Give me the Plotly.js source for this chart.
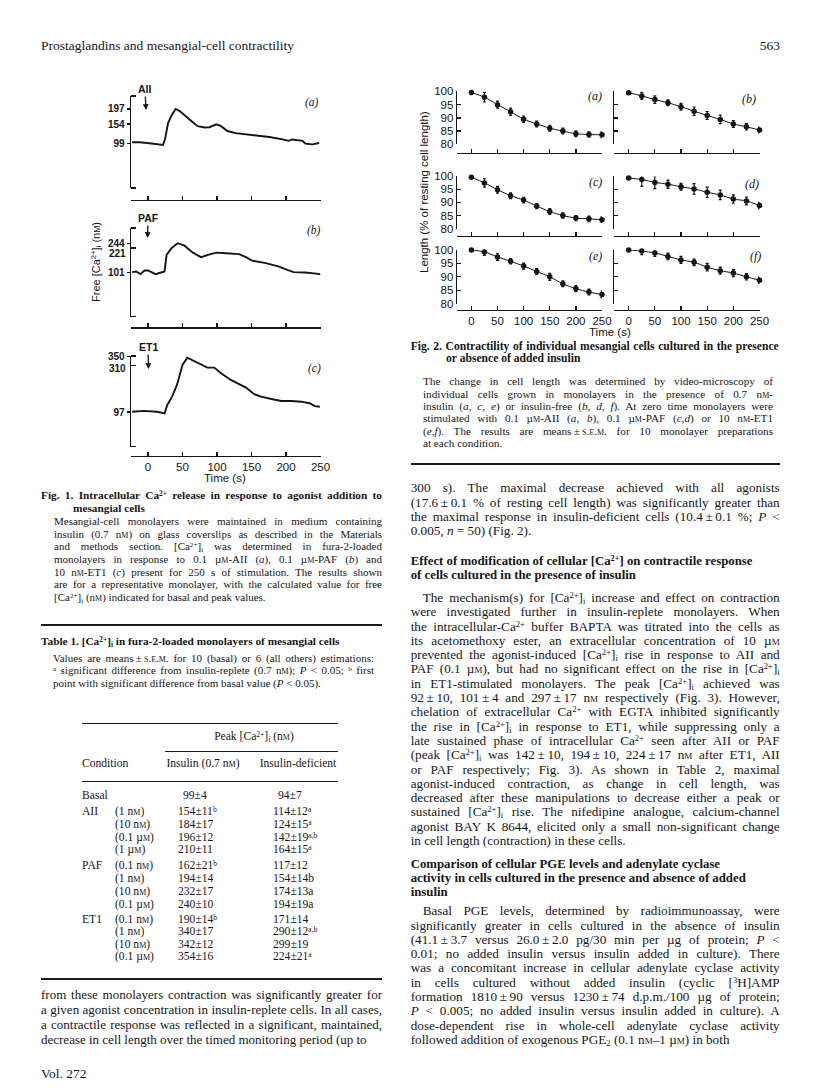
<!DOCTYPE html>
<html>
<head>
<meta charset="utf-8">
<script src="https://cdn.plot.ly/plotly-3.0.1.min.js"></script>
<style>
  body { margin: 0; background: #fff; }
  #page { position: relative; width: 816px; height: 1092px; overflow: hidden; background: #fff; }
  #plot { position: absolute; left: 0; top: 0; width: 816px; height: 1092px; }
  .ln { position: absolute; white-space: nowrap; font-family: "Liberation Serif", serif; color: #161616; line-height: 1; }
  .ln sup { font-size: 65%; vertical-align: 0.45em; line-height: 0; }
  .ln sub { font-size: 65%; vertical-align: -0.25em; line-height: 0; }
  .sc { font-variant: small-caps; }
  .rule { position: absolute; background: #1a1a1a; }
  .vt { position: absolute; white-space: nowrap; font-family: "Liberation Sans", Arial, sans-serif; color: #151515; line-height: 1; transform: translate(-50%, -50%) rotate(-90deg); }
  .vt sup { font-size: 70%; vertical-align: 0.4em; line-height: 0; }
  .vt sub { font-size: 70%; vertical-align: -0.2em; line-height: 0; }
</style>
</head>
<body>
<div id="page"><div id="plot"></div></div>
<script>
// ---------- Fig. 1 : free [Ca2+]i traces (nM) ----------
const fig1TimeTicks = [0, 50, 100, 150, 200, 250];

const timeA = [-23, -12, 2, 17, 22, 25, 29, 34, 40, 46, 55, 65, 72, 82, 89, 99, 106, 115, 127, 142, 161, 176, 195, 204, 209, 224, 228, 238, 248];
const caA   = [102, 102, 99, 94, 94, 113, 156, 178, 197, 191, 175, 159, 148, 144, 145, 153, 148, 134, 128, 125, 121, 117, 110, 106, 110, 106, 98, 96, 100];
const ticksA = [99, 154, 197];

const timeB = [-23, -17, -11, -5, 0, 11, 19, 24, 27, 34, 43, 53, 65, 77, 87, 99, 113, 132, 142, 151, 171, 190, 202, 211, 228, 250];
const caB   = [103, 106, 93, 111, 111, 93, 101, 106, 187, 220, 244, 232, 198, 176, 187, 198, 195, 191, 176, 159, 147, 130, 114, 103, 101, 93];
const ticksB = [101, 221, 244];

const timeC = [-23, -6, 13, 24, 28, 35, 42, 50, 57, 64, 76, 86, 96, 106, 120, 132, 142, 154, 164, 179, 193, 208, 222, 234, 242, 249];
const caC   = [98, 102, 98, 91, 129, 167, 220, 311, 344, 334, 314, 299, 299, 273, 243, 223, 208, 178, 167, 156, 147, 147, 144, 137, 124, 121];
const ticksC = [97, 310, 350];

const fig1Agonists = ["AII", "PAF", "ET1"];
const fig1Letters = ["(a)", "(b)", "(c)"];

// ---------- Fig. 2 : cell length (% of resting) ----------
const fig2Time = [0, 25, 50, 75, 100, 125, 150, 175, 200, 225, 250];
const fig2TimeTicks = [0, 50, 100, 150, 200, 250];
const fig2LengthTicks = [80, 85, 90, 95, 100];

const lenA = [99.6, 97.8, 95.0, 92.3, 89.5, 87.7, 86.1, 85.0, 84.0, 83.7, 83.6];
const errA = [0, 1.8, 1.3, 1.4, 1.2, 1.1, 1.1, 1.1, 1.1, 1.0, 1.1];
const lenB = [99.5, 98.3, 96.9, 95.7, 94.2, 92.5, 90.9, 89.4, 87.7, 86.6, 85.4];
const errB = [0, 1.3, 1.4, 1.1, 1.3, 1.6, 1.5, 1.6, 1.3, 1.2, 1.1];
const lenC = [99.7, 97.5, 94.9, 92.6, 90.9, 88.6, 86.5, 85.0, 84.0, 83.7, 83.4];
const errC = [0, 1.6, 1.3, 1.1, 1.1, 1.0, 1.1, 1.0, 1.0, 1.1, 1.1];
const lenD = [99.4, 98.8, 97.7, 97.0, 96.0, 95.2, 93.9, 92.9, 91.3, 90.6, 88.8];
const errD = [0, 2.6, 2.4, 1.6, 1.3, 2.0, 2.0, 1.8, 1.6, 1.5, 1.2];
const lenE = [100, 99.3, 97.4, 95.8, 94.0, 92.0, 90.0, 87.4, 85.6, 84.3, 83.4];
const errE = [0, 1.3, 1.3, 1.0, 1.1, 1.1, 1.3, 1.1, 1.1, 1.1, 1.3];
const lenF = [100, 99.6, 98.9, 97.6, 96.3, 95.4, 93.6, 92.3, 91.4, 90.0, 88.7];
const errF = [0, 1.3, 1.3, 1.2, 1.3, 1.2, 1.4, 1.3, 1.3, 1.2, 1.2];
const fig2Letters = ["(a)", "(b)", "(c)", "(d)", "(e)", "(f)"];

// ---------- Table 1 ----------
const tblGroups = ["Basal", "AII", "", "", "", "PAF", "", "", "", "ET1", "", "", ""];
const tblConc = ["", "(1 nM)", "(10 nM)", "(0.1 µM)", "(1 µM)", "(0.1 nM)", "(1 nM)", "(10 nM)", "(0.1 µM)", "(0.1 nM)", "(1 nM)", "(10 nM)", "(0.1 µM)"];
const tblInsulin = ["99±4", "154±11^b", "184±17", "196±12", "210±11", "162±21^b", "194±14", "232±17", "240±10", "190±14^b", "340±17", "342±12", "354±16"];
const tblDeficient = ["94±7", "114±12^a", "124±15^a", "142±19^a,b", "164±15^a", "117±12", "154±14b", "174±13a", "194±19a", "171±14", "290±12^a,b", "299±19", "224±21^a"];

// ---------- page geometry helpers ----------
const W = 816, H = 1092;
const fx = p => p / W;
const fy = p => 1 - p / H;
const ink = "#151515";
const sans = "Liberation Sans, Arial, sans-serif";

function axisBase() {
  return {
    showgrid: false, zeroline: false, showline: true, linecolor: ink, linewidth: 1.3,
    ticks: "inside", tickcolor: ink, tickwidth: 1.3, ticklen: 4, fixedrange: true,
    tickmode: "array"
  };
}

const layout = {
  width: W, height: H,
  margin: { l: 0, r: 0, t: 0, b: 0, pad: 0 },
  paper_bgcolor: "rgba(0,0,0,0)", plot_bgcolor: "rgba(0,0,0,0)",
  showlegend: false,
  font: { family: sans, color: ink },
  annotations: []
};
const data = [];

function ann(text, x, y, extra) {
  return Object.assign({
    text: text, x: fx(x), y: fy(y), xref: "paper", yref: "paper",
    showarrow: false, xanchor: "center", yanchor: "middle",
    font: { family: sans, size: 11, color: ink }
  }, extra || {});
}

// ----- Fig. 1 -----
// the printed [Ca2+] scale is not linear: one label per panel is moved onto its printed place
const f1Panels = [
  { top: 96, bot: 188, axisY: 200, range: [-28.7, 234.1], t: timeA, v: caA, ticks: ticksA, nudge: null, lab: [145, 89], tip: [146, 110], let: [312, 102] },
  { top: 228, bot: 316.7, axisY: 327.3, range: [-114.8, 318.4], t: timeB, v: caB, ticks: ticksB, nudge: [221, -6], lab: [148, 218], tip: [147.5, 238], let: [314, 230] },
  { top: 356, bot: 446.7, axisY: 456, range: [-60.8, 351.8], t: timeC, v: caC, ticks: ticksC, nudge: [310, -3], lab: [148, 347], tip: [148.5, 369], let: [314, 368] }
];
const f1X = [131, 320.5], f1T0 = -24.6;
const f1TickFont = { size: 10, family: sans, color: ink, weight: "bold" };

f1Panels.forEach((p, i) => {
  const n = i + 1, sfx = n > 1 ? String(n) : "";
  layout["xaxis" + sfx] = Object.assign(axisBase(), {
    domain: [fx(f1X[0]), fx(f1X[1])], range: [f1T0, 250],
    anchor: "free", position: fy(p.axisY),
    tickvals: fig1TimeTicks, ticktext: fig1TimeTicks.map(String),
    minor: { tickmode: "array", tickvals: [f1T0], ticks: "inside", ticklen: 4, tickwidth: 1.3, tickcolor: ink },
    showticklabels: i === 2, tickfont: { size: 11.5, family: sans, color: ink }
  });
  const mainTicks = p.nudge ? p.ticks.filter(v => v !== p.nudge[0]) : p.ticks;
  const minorTicks = p.nudge ? [p.range[0], p.nudge[0], p.range[1]] : p.range;
  layout["yaxis" + sfx] = Object.assign(axisBase(), {
    domain: [fy(p.bot), fy(p.top)], range: p.range, anchor: "x" + sfx,
    tickvals: mainTicks, ticktext: mainTicks.map(String), ticks: "outside", ticklen: 3,
    minor: { tickmode: "array", tickvals: minorTicks, ticks: "inside", ticklen: 5, tickwidth: 1.3, tickcolor: ink },
    tickfont: f1TickFont
  });
  if (p.nudge) {
    layout.annotations.push({
      text: String(p.nudge[0]), xref: "x" + sfx + " domain", yref: "y" + sfx,
      x: 0, y: p.nudge[0], xanchor: "right", yanchor: "middle", xshift: -4, yshift: p.nudge[1],
      showarrow: false, borderpad: 0, font: f1TickFont
    });
  }
  data.push({
    type: "scatter", mode: "lines", x: p.t, y: p.v, xaxis: "x" + sfx, yaxis: "y" + sfx,
    line: { color: ink, width: 1.9 }, hoverinfo: "skip"
  });
  layout.annotations.push(ann(fig1Agonists[i], p.tip[0], p.tip[1], {
    showarrow: true, ax: p.lab[0] - p.tip[0], ay: p.lab[1] - p.tip[1],
    arrowhead: 2, arrowsize: 0.9, arrowwidth: 1.3, arrowcolor: ink, standoff: 0,
    font: { family: sans, size: 10.5, color: ink, weight: "bold" }
  }));
  layout.annotations.push(ann(fig1Letters[i], p.let[0], p.let[1], {
    font: { family: "Liberation Serif, serif", size: 11.5, color: ink, style: "italic" }
  }));
});
layout.annotations.push(ann("Time (s)", 225, 478, { font: { size: 11.5, family: sans, color: ink } }));

// ----- Fig. 2 -----
const f2Cols = [[457, 602], [614.3, 759.5]];
const f2Rows = [
  { top: 91.4, bot: 144.3, axisY: 152.5 },
  { top: 176.4, bot: 228.5, axisY: 235.5 },
  { top: 250, bot: 303.6, axisY: 310 }
];
const f2T0 = -27.5;
const f2Series = [[lenA, errA], [lenB, errB], [lenC, errC], [lenD, errD], [lenE, errE], [lenF, errF]];
const f2LetterPos = [[594.5, 96], [749, 98.5], [595.5, 182], [751.5, 183.5], [595.5, 255.5], [755, 255.5]];

f2Series.forEach((s, k) => {
  const row = Math.floor(k / 2), col = k % 2;
  const n = 4 + k, sfx = String(n);
  const r = f2Rows[row], c = f2Cols[col];
  layout["xaxis" + sfx] = Object.assign(axisBase(), {
    domain: [fx(c[0]), fx(c[1])], range: [f2T0, 250],
    anchor: "free", position: fy(r.axisY),
    tickvals: fig2TimeTicks, ticktext: fig2TimeTicks.map(String),
    minor: { tickmode: "array", tickvals: [f2T0], ticks: "inside", ticklen: 4, tickwidth: 1.3, tickcolor: ink },
    showticklabels: row === 2, tickfont: { size: 11.5, family: sans, color: ink }
  });
  layout["yaxis" + sfx] = Object.assign(axisBase(), {
    domain: [fy(r.bot), fy(r.top)], range: [80, 100], anchor: "x" + sfx,
    tickvals: fig2LengthTicks, ticktext: fig2LengthTicks.map(String),
    showticklabels: col === 0, tickfont: { size: 11.5, family: sans, color: ink }
  });
  data.push({
    type: "scatter", mode: "lines+markers", x: fig2Time, y: s[0], xaxis: "x" + sfx, yaxis: "y" + sfx,
    line: { color: ink, width: 1, shape: "spline", smoothing: 0.8 },
    marker: { color: ink, size: 5.5 },
    error_y: { type: "data", array: s[1], visible: true, color: ink, thickness: 1.2, width: 1.5 },
    cliponaxis: false, hoverinfo: "skip"
  });
  layout.annotations.push(ann(fig2Letters[k], f2LetterPos[k][0], f2LetterPos[k][1], {
    font: { family: "Liberation Serif, serif", size: 12, color: ink, style: "italic" }
  }));
});
layout.annotations.push(ann("Length (% of resting cell length)", 424, 192, { textangle: -90, font: { size: 11.5, family: sans, color: ink } }));
layout.annotations.push(ann("Time (s)", 610, 332, { font: { size: 11.5, family: sans, color: ink } }));

Plotly.newPlot("plot", data, layout, { staticPlot: true, displayModeBar: false });

// ---------- text of the page ----------
const page = document.getElementById("page");
const nM = 'n<span class="sc">m</span>';
const uM = 'µ<span class="sc">m</span>';
const CA = 'Ca<sup>2+</sup>';
const CAi = '[Ca<sup>2+</sup>]<sub>i</sub>';
const pm = '\u2009±\u2009';

// rotated axis title of Fig. 1
const vt = document.createElement("div");
vt.className = "vt";
vt.style.fontSize = "11px";
vt.style.left = "96px"; vt.style.top = "262px";
vt.innerHTML = "Free " + CAi + " (n<span style='font-size:8.5px'>M</span>)";
page.appendChild(vt);

function line(html, x, y, o) {
  o = o || {};
  const fs = o.size || 13;
  const d = document.createElement("div");
  d.className = "ln";
  d.style.fontSize = fs + "px";
  if (o.bold) d.style.fontWeight = "bold";
  d.innerHTML = html;
  d.style.top = (y - 0.61 * fs) + "px";
  page.appendChild(d);
  const nat = d.getBoundingClientRect().width;
  let left = x;
  if (o.align === "center") left = x - nat / 2;
  if (o.align === "right") left = x - nat;
  d.style.left = left + "px";
  if (o.w) {
    const txt = d.textContent;
    if (nat > o.w) {
      d.style.letterSpacing = ((o.w - nat) / txt.length) + "px";
    } else if (o.justify) {
      const spaces = (txt.match(/ /g) || []).length;
      if (spaces) d.style.wordSpacing = ((o.w - nat) / spaces) + "px";
    }
  }
  return d;
}
function para(lines, x, y0, step, w, o) {
  lines.forEach((t, i) => {
    const last = i === lines.length - 1;
    line(t, x, y0 + i * step, Object.assign({}, o, { w: w, justify: !last }));
  });
}
function rule(x0, x1, y, th) {
  const r = document.createElement("div");
  r.className = "rule";
  r.style.left = x0 + "px"; r.style.width = (x1 - x0) + "px";
  r.style.top = (y - th / 2) + "px"; r.style.height = th + "px";
  page.appendChild(r);
}

// running head
line("Prostaglandins and mesangial-cell contractility", 41, 47, { size: 13.5 });
line("563", 780, 47, { size: 13.5, align: "right" });

// ---- left column ----
line("Fig. 1. Intracellular " + CA + " release in response to agonist addition to", 41, 497, { size: 11.3, bold: true, w: 341, justify: true });
line("mesangial cells", 73, 509.5, { size: 11.3, bold: true });
para([
  "Mesangial-cell monolayers were maintained in medium containing",
  "insulin (0.7 " + nM + ") on glass coverslips as described in the Materials",
  "and methods section. " + CAi + " was determined in fura-2-loaded",
  "monolayers in response to 0.1 " + uM + "-AII (<i>a</i>), 0.1 " + uM + "-PAF (<i>b</i>) and",
  "10 " + nM + "-ET1 (<i>c</i>) present for 250 s of stimulation. The results shown",
  "are for a representative monolayer, with the calculated value for free",
  CAi + " (" + nM + ") indicated for basal and peak values."
], 54, 523, 12.6, 328, { size: 11 });
rule(41, 382, 625, 1.6);

line("Table 1. " + CAi + " in fura-2-loaded monolayers of mesangial cells", 41, 643, { size: 11.3, bold: true });
para([
  "Values are means" + pm + '<span class="sc">s.e.m.</span> for 10 (basal) or 6 (all others) estimations:',
  "<sup>a</sup> significant difference from insulin-replete (0.7 " + nM + "); <i>P</i> &lt; 0.05; <sup>b</sup> first",
  "point with significant difference from basal value (<i>P</i> &lt; 0.05)."
], 53, 660, 12.2, 321, { size: 11 });
rule(82, 338, 723, 0.9);
line("Peak " + CAi + " (" + nM + ")", 254, 738, { size: 11.6, align: "center" });
rule(165, 338, 751, 0.9);
line("Condition", 82, 765, { size: 11.6 });
line("Insulin (0.7 " + nM + ")", 203, 765, { size: 11.6, align: "center" });
line("Insulin-deficient", 298, 765, { size: 11.6, align: "center" });
rule(82, 338, 781, 0.9);

function fmtVal(s) {
  const parts = s.split("^");
  return parts.length > 1 ? parts[0] + "<sup>" + parts[1] + "</sup>" : parts[0];
}
function fmtConc(s) {
  return s.replace("nM", nM).replace("µM", uM);
}
const rowY = [797, 813, 826, 839, 851.5, 867, 880, 893, 906, 921, 933.5, 946, 958.5];
rowY.forEach((y, i) => {
  if (tblGroups[i]) line(tblGroups[i], 82, y, { size: 11.6 });
  if (tblConc[i]) line(fmtConc(tblConc[i]), 115, y, { size: 11.6 });
  const v1 = tblInsulin[i], v2 = tblDeficient[i];
  line(fmtVal(v1), v1.length < 5 ? 183 : 178, y, { size: 11.6 });
  line(fmtVal(v2), v2.length < 5 ? 278 : 273, y, { size: 11.6 });
});
rule(41, 382, 979, 1.6);

para([
  "from these monolayers contraction was significantly greater for",
  "a given agonist concentration in insulin-replete cells. In all cases,",
  "a contractile response was reflected in a significant, maintained,",
  "decrease in cell length over the timed monitoring period (up to"
], 41, 996, 15, 341, { size: 13 });
line("Vol. 272", 41, 1075, { size: 13.5 });

// ---- right column ----
line("Fig. 2. Contractility of individual mesangial cells cultured in the presence", 410.7, 348, { size: 11.6, bold: true, w: 368, justify: true });
line("or absence of added insulin", 446, 360.5, { size: 11.6, bold: true });
para([
  "The change in cell length was determined by video-microscopy of",
  "individual cells grown in monolayers in the presence of 0.7 " + nM + "-",
  "insulin (<i>a, c, e</i>) or insulin-free (<i>b, d, f</i>). At zero time monolayers were",
  "stimulated with 0.1 " + uM + "-AII (<i>a, b</i>), 0.1 " + uM + "-PAF (<i>c,d</i>) or 10 " + nM + "-ET1",
  "(<i>e,f</i>). The results are means" + pm + '<span class="sc">s.e.m.</span> for 10 monolayer preparations',
  "at each condition."
], 423, 383, 12.4, 350, { size: 11.2 });
rule(410.7, 780, 464, 1.6);

const S = 14.3, X0 = 410.7, CW = 369;
let y = 489.3;
function block(lines, indent, opts) {
  lines.forEach((t, i) => {
    const last = i === lines.length - 1;
    const xi = X0 + (i === 0 ? indent : 0);
    line(t, xi, y, Object.assign({ size: 13.2, w: CW - (xi - X0), justify: !last }, opts || {}));
    if (!last) y += S;
  });
}
block([
  "300 s). The maximal decrease achieved with all agonists",
  "(17.6" + pm + "0.1 % of resting cell length) was significantly greater than",
  "the maximal response in insulin-deficient cells (10.4" + pm + "0.1 %; <i>P</i> &lt;",
  "0.005, <i>n</i> = 50) (Fig. 2)."
], 0);
y = 562.5;
block([
  "Effect of modification of cellular [" + CA + "] on contractile response",
  "of cells cultured in the presence of insulin"
], 0, { bold: true, justify: false, size: 12.8 });
y = 599;
block([
  "The mechanism(s) for " + CAi + " increase and effect on contraction",
  "were investigated further in insulin-replete monolayers. When",
  "the intracellular-" + CA + " buffer BAPTA was titrated into the cells as",
  "its acetomethoxy ester, an extracellular concentration of 10 " + uM,
  "prevented the agonist-induced " + CAi + " rise in response to AII and",
  "PAF (0.1 " + uM + "), but had no significant effect on the rise in " + CAi,
  "in ET1-stimulated monolayers. The peak " + CAi + " achieved was",
  "92" + pm + "10, 101" + pm + "4 and 297" + pm + "17 " + nM + " respectively (Fig. 3). However,",
  "chelation of extracellular " + CA + " with EGTA inhibited significantly",
  "the rise in " + CAi + " in response to ET1, while suppressing only a",
  "late sustained phase of intracellular " + CA + " seen after AII or PAF",
  "(peak " + CAi + " was 142" + pm + "10, 194" + pm + "10, 224" + pm + "17 " + nM + " after ET1, AII",
  "or PAF respectively; Fig. 3). As shown in Table 2, maximal",
  "agonist-induced contraction, as change in cell length, was",
  "decreased after these manipulations to decrease either a peak or",
  "sustained " + CAi + " rise. The nifedipine analogue, calcium-channel",
  "agonist BAY K 8644, elicited only a small non-significant change",
  "in cell length (contraction) in these cells."
], 12);
y += S + 9;
block([
  "Comparison of cellular PGE levels and adenylate cyclase",
  "activity in cells cultured in the presence and absence of added",
  "insulin"
], 0, { bold: true, justify: false, size: 12.8 });
y += S + 4;
block([
  "Basal PGE levels, determined by radioimmunoassay, were",
  "significantly greater in cells cultured in the absence of insulin",
  "(41.1" + pm + "3.7 versus 26.0" + pm + "2.0 pg/30 min per µg of protein; <i>P</i> &lt;",
  "0.01; no added insulin versus insulin added in culture). There",
  "was a concomitant increase in cellular adenylate cyclase activity",
  "in cells cultured without added insulin (cyclic [<sup>3</sup>H]AMP",
  "formation 1810" + pm + "90 versus 1230" + pm + "74 d.p.m./100 µg of protein;",
  "<i>P</i> &lt; 0.005; no added insulin versus insulin added in culture). A",
  "dose-dependent rise in whole-cell adenylate cyclase activity",
  "followed addition of exogenous PGE<sub>2</sub> (0.1 " + nM + "–1 " + uM + ") in both"
], 12);
</script>
</body>
</html>
